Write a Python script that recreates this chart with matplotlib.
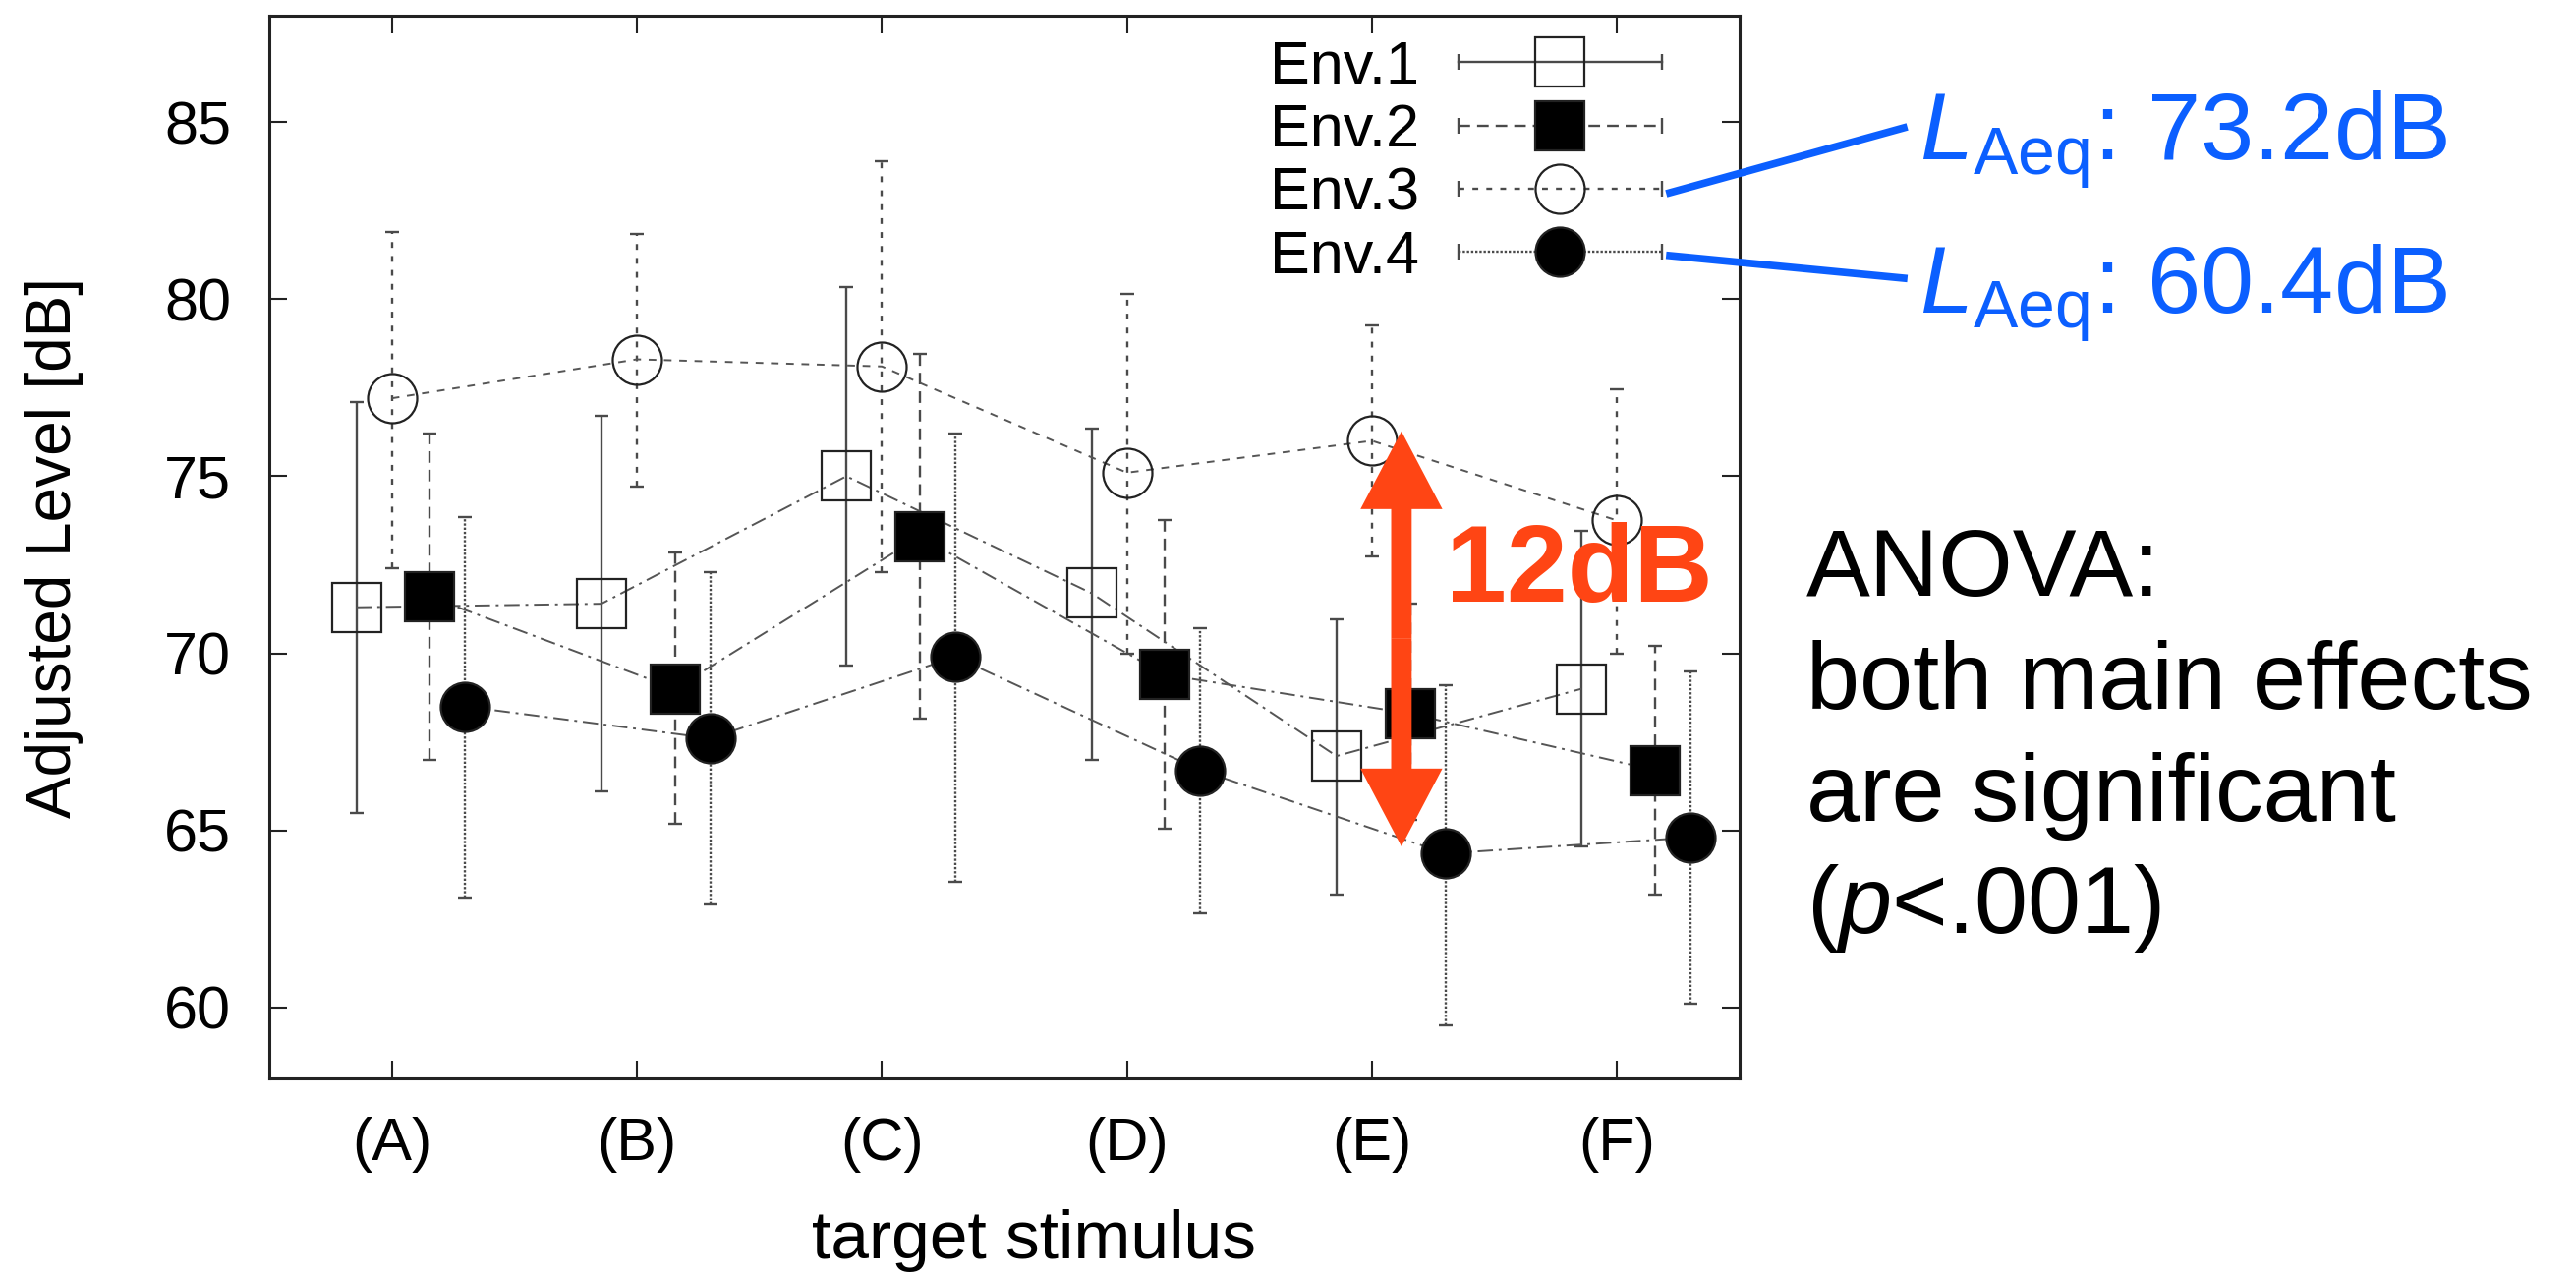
import matplotlib.pyplot as plt
from matplotlib.lines import Line2D
from matplotlib.legend_handler import HandlerLine2D
from matplotlib.patches import FancyArrowPatch

plt.rcParams['font.family'] = ['Liberation Sans', 'DejaVu Sans']
plt.rcParams['mathtext.fontset'] = 'custom'
plt.rcParams['mathtext.rm'] = 'Liberation Sans'
plt.rcParams['mathtext.it'] = 'Liberation Sans:italic'

# data (mean and error bar ends, dB)
stimuli = ['(A)', '(B)', '(C)', '(D)', '(E)', '(F)']
env_names = ['Env.1', 'Env.2', 'Env.3', 'Env.4']

env1_mean = [71.3, 71.4, 75.0, 71.7, 67.1, 69.0]
env1_low = [65.5, 66.1, 69.65, 67.0, 63.2, 64.55]
env1_high = [77.1, 76.7, 80.35, 76.35, 70.95, 73.45]

env2_mean = [71.6, 69.0, 73.3, 69.4, 68.3, 66.7]
env2_low = [67.0, 65.2, 68.15, 65.05, 65.3, 63.2]
env2_high = [76.2, 72.85, 78.45, 73.75, 71.4, 70.2]

env3_mean = [77.2, 78.3, 78.1, 75.1, 76.0, 73.75]
env3_low = [72.4, 74.7, 72.3, 70.0, 72.75, 70.0]
env3_high = [81.9, 81.85, 83.9, 80.15, 79.25, 77.45]

env4_mean = [68.5, 67.6, 69.9, 66.7, 64.35, 64.8]
env4_low = [63.1, 62.9, 63.55, 62.65, 59.5, 60.1]
env4_high = [73.85, 72.3, 76.2, 70.7, 69.1, 69.5]

laeq_labels = ['73.2dB', '60.4dB']
anova_lines = ['ANOVA:', 'both main effects', 'are significant', '($\\mathit{p}$<.001)']

means = [env1_mean, env2_mean, env3_mean, env4_mean]
lows = [env1_low, env2_low, env3_low, env4_low]
highs = [env1_high, env2_high, env3_high, env4_high]

# styles
offsets = [-0.145, 0.155, 0.0, 0.30]
markers = ['s', 's', 'o', 'o']
face = ['none', 'black', 'none', 'black']
err_styles = ['-', (0, (5, 3)), (0, (2.5, 3.5)), (0, (1, 0.8))]
conn_styles = [(0, (8, 3, 1.5, 3)), (0, (8, 3, 1.5, 3)), (0, (4, 4)), (0, (8, 3, 1.5, 3))]
err_color = '#4a4a4a'
line_color = '#555555'
blue = '#0B5FFF'
red = '#FF4514'

W, H = 2621, 1299
fig = plt.figure(figsize=(W / 100, H / 100), dpi=100)
ax = fig.add_axes([274 / W, 1 - 1097 / H, (1770 - 274) / W, (1097 - 16) / H])

for i in range(4):
    xs = [k + 1 + offsets[i] for k in range(len(stimuli))]
    m = means[i]
    yerr = [[a - b for a, b in zip(m, lows[i])], [b - a for a, b in zip(m, highs[i])]]
    eb = ax.errorbar(xs, m, yerr=yerr, fmt='none', ecolor=err_color,
                     elinewidth=1.7, capsize=5, capthick=1.7, zorder=2)
    eb[2][0].set_linestyle(err_styles[i])
    ax.plot(xs, m, linestyle=conn_styles[i], color=line_color, lw=1.4,
            marker=markers[i], ms=36, mfc=face[i], mec='#222222', mew=1.6, zorder=3)

ax.set_xlim(0.5, 6.5)
ax.set_ylim(58, 88)
ax.set_xticks(range(1, 7))
ax.set_xticklabels(stimuli)
ax.set_yticks([60, 65, 70, 75, 80, 85])
ax.tick_params(direction='in', length=13, width=1.5, pad=28, labelsize=44,
               top=True, right=True, color='#222222')
for s in ax.spines.values():
    s.set_linewidth(2.2)
    s.set_color('#222222')


class CapHandler(HandlerLine2D):
    def create_artists(self, legend, orig_handle, xdescent, ydescent,
                       width, height, fontsize, trans):
        arts = super().create_artists(legend, orig_handle, xdescent, ydescent,
                                      width, height, fontsize, trans)
        xd = arts[0].get_xdata()
        yd = arts[0].get_ydata()
        caps = Line2D([xd[0], xd[-1]], [yd[0], yd[-1]], linestyle='none',
                      marker='|', ms=12, mew=1.7, color=err_color, transform=trans)
        return arts + [caps]


handles = [Line2D([], [], color=err_color, lw=1.7, linestyle=err_styles[i],
                  marker=markers[i], ms=36, mfc=face[i], mec='#222222', mew=1.6)
           for i in range(4)]
ax.legend(handles, env_names, loc='upper right', bbox_to_anchor=(0.9472, 0.977),
          frameon=False, markerfirst=False, numpoints=1, fontsize=44,
          borderpad=0, borderaxespad=0, handlelength=3.39, handletextpad=0.65,
          labelspacing=0.12, handler_map={Line2D: CapHandler()})

# 12 dB arrow between Env.3 and Env.4 at (E)
arrow_x = 5.12
arrow_low, arrow_high = 64.55, 76.27
arrow_mid = (arrow_low + arrow_high) / 2
for end in (arrow_low, arrow_high):
    ax.add_patch(FancyArrowPatch((arrow_x, arrow_mid), (arrow_x, end),
                                 arrowstyle='simple,head_length=57,head_width=60,tail_width=15',
                                 mutation_scale=1, shrinkA=0, shrinkB=0,
                                 color=red, lw=0, zorder=5))
ax.text(5.30, 71.45, '12dB', color=red, fontsize=80, fontweight='bold',
        ha='left', va='baseline', zorder=6)

# axis labels
fig.text(55 / W, 1 - 557 / H, 'Adjusted Level [dB]', rotation=90,
         fontsize=46, ha='center', va='center')
fig.text(1052 / W, 1 - 1262 / H, 'target stimulus', fontsize=50,
         ha='center', va='center')

# LAeq callouts
for lab, y0, y1 in zip(laeq_labels, [196, 260], [130, 283]):
    fig.add_artist(Line2D([1699 / W, 1937 / W], [1 - y0 / H, 1 - y1 / H],
                          color=blue, lw=5.5, transform=fig.transFigure))
for lab, yb in zip(laeq_labels, [163, 319]):
    fig.text(1953 / W, 1 - yb / H, '$\\mathit{L}_{\\mathrm{Aeq}}$: ' + lab,
             color=blue, fontsize=70, ha='left', va='baseline')

# ANOVA note
for line, yb in zip(anova_lines, [606, 721, 835, 949]):
    fig.text(1838 / W, 1 - yb / H, line, fontsize=70, ha='left', va='baseline')

fig.savefig('out.png', dpi=100)
